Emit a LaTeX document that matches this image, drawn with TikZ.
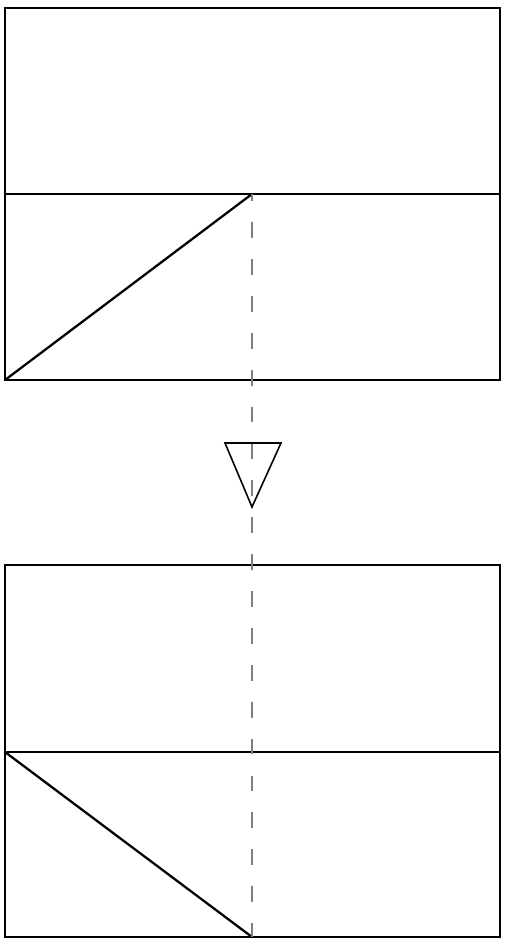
\documentclass[tikz,border=0pt]{standalone}
\usepackage{tikz}
\usetikzlibrary{calc}

\begin{document}
\begin{tikzpicture}[
        x=0.02cm, y=-0.02cm,
        frame/.style={draw, line width=1.3pt},
        guide/.style={draw=gray, line width=1.1pt, dash pattern=on 9pt off 12pt, dash phase=5pt},
        marker/.style={draw, line width=0.9pt, line join=miter}
    ]
    \useasboundingbox (0,0) rectangle (506,939);
    % upper panel
    \coordinate (tl) at (5,8);
    \coordinate (tr) at (500,380);
    \coordinate (tm) at (5,194);
    \coordinate (tp) at (252,194);
    \draw[frame] (tl) rectangle (tr);
    \draw[frame] (tm) -- (500,194);
    \draw[frame] (5,380) -- (tp);
    % lower panel
    \coordinate (bl) at (5,565);
    \coordinate (br) at (500,937);
    \coordinate (bm) at (5,752);
    \coordinate (bp) at (252,937);
    \draw[frame] (bl) rectangle (br);
    \draw[frame] (bm) -- (500,752);
    \draw[frame] (bm) -- (bp);
    % guide line
    \draw[guide] (tp) -- (bp);
    % direction marker
    \coordinate (ma) at (225,443);
    \coordinate (mb) at (281,443);
    \coordinate (mc) at (252,507);
    \draw[marker] (ma) -- (mb) -- (mc) -- cycle;
\end{tikzpicture}
\end{document}
